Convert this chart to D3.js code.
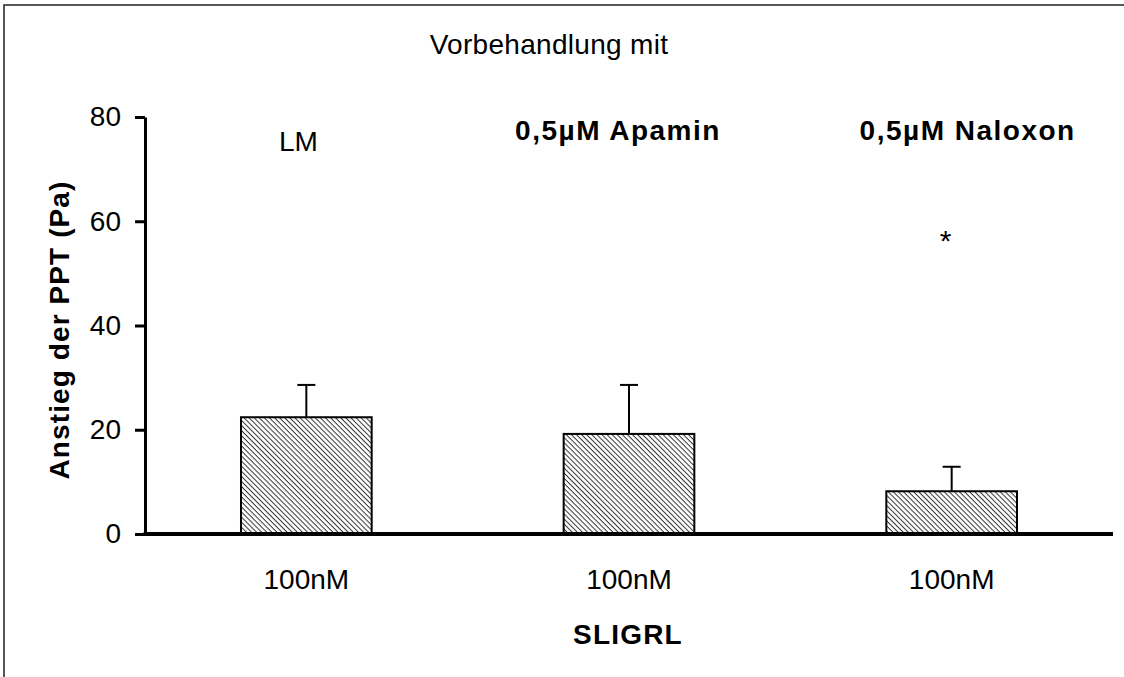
<!DOCTYPE html>
<html>
<head>
<meta charset="utf-8">
<script src="https://d3js.org/d3.v7.min.js"></script>
<style>
  body { margin: 0; background: #fff; }
  text { font-family: "Liberation Sans", Arial, sans-serif; fill: #000; }
</style>
</head>
<body>
<svg id="chart" width="1124" height="677"></svg>
<script>
// data
var groups = ["LM", "0,5µM Apamin", "0,5µM Naloxon"];
var doseLabels = ["100nM", "100nM", "100nM"];
var means = [22.4, 19.2, 8.2];
var errors = [6.2, 9.4, 4.7];
var stars = ["", "", "*"];
var starLevel = [0, 0, 57.4];
var yTicks = [0, 20, 40, 60, 80];

var chart = {};
chart.svg = d3.select("#chart");
chart.left = 145; chart.right = 1113;
chart.top = 117; chart.bottom = 534;

// page frame (only top and left edges show)
chart.svg.append("path")
    .attr("d", "M4,677 L4,5 L1124,5")
    .attr("fill", "none")
    .attr("stroke", "#222")
    .attr("stroke-width", 1.5);

// hatch fill
var defs = chart.svg.append("defs");
var pat = defs.append("pattern")
    .attr("id", "hatch")
    .attr("patternUnits", "userSpaceOnUse")
    .attr("width", 3.6).attr("height", 3.6)
    .attr("patternTransform", "rotate(45)");
pat.append("rect").attr("width", 3.6).attr("height", 3.6).attr("fill", "#fff");
pat.append("line")
    .attr("x1", 0).attr("y1", 0).attr("x2", 3.6).attr("y2", 0)
    .attr("stroke", "#333").attr("stroke-width", 2);

var x = d3.scaleBand()
    .domain(d3.range(groups.length))
    .range([chart.left, chart.right])
    .paddingInner(0.595)
    .paddingOuter(0.2975);

var y = d3.scaleLinear()
    .domain([0, 80])
    .range([chart.bottom, chart.top]);

var headShift = [-8, -11, 16];

// bars
chart.svg.selectAll("rect.bar")
    .data(means)
    .enter().append("rect")
    .attr("class", "bar")
    .attr("x", function(d, i){ return x(i); })
    .attr("y", function(d){ return y(d); })
    .attr("width", x.bandwidth())
    .attr("height", function(d){ return y(0) - y(d); })
    .attr("fill", "url(#hatch)")
    .attr("stroke", "#000")
    .attr("stroke-width", 2);

// error bars (upper only)
var eb = chart.svg.selectAll("g.err")
    .data(means)
    .enter().append("g").attr("class", "err");
eb.append("line")
    .attr("x1", function(d, i){ return x(i) + x.bandwidth()/2; })
    .attr("x2", function(d, i){ return x(i) + x.bandwidth()/2; })
    .attr("y1", function(d){ return y(d); })
    .attr("y2", function(d, i){ return y(d + errors[i]); })
    .attr("stroke", "#000").attr("stroke-width", 2);
eb.append("line")
    .attr("x1", function(d, i){ return x(i) + x.bandwidth()/2 - 9; })
    .attr("x2", function(d, i){ return x(i) + x.bandwidth()/2 + 9; })
    .attr("y1", function(d, i){ return y(d + errors[i]); })
    .attr("y2", function(d, i){ return y(d + errors[i]); })
    .attr("stroke", "#000").attr("stroke-width", 2);

// y axis
var yAxis = chart.svg.append("g")
    .attr("transform", "translate(" + chart.left + ",0)")
    .call(d3.axisLeft(y).tickValues(yTicks).tickSize(10).tickSizeOuter(0).tickPadding(14));
yAxis.select(".domain").attr("stroke", "#000").attr("stroke-width", 3);
yAxis.selectAll(".tick line").attr("stroke", "#000").attr("stroke-width", 3);
yAxis.selectAll(".tick text")
    .attr("font-size", 28)
    .attr("font-family", "Liberation Sans, Arial, sans-serif");

// x axis line
chart.svg.append("line")
    .attr("x1", chart.left - 1.5).attr("x2", chart.right)
    .attr("y1", y(0)).attr("y2", y(0))
    .attr("stroke", "#000").attr("stroke-width", 4);

// dose labels under bars
chart.svg.selectAll("text.dose")
    .data(doseLabels)
    .enter().append("text")
    .attr("class", "dose")
    .attr("x", function(d, i){ return x(i) + x.bandwidth()/2; })
    .attr("y", 589)
    .attr("text-anchor", "middle")
    .attr("font-size", 28)
    .text(function(d){ return d; });

// group headings
chart.svg.selectAll("text.grp")
    .data(groups)
    .enter().append("text")
    .attr("class", "grp")
    .attr("x", function(d, i){ return x(i) + x.bandwidth()/2 + headShift[i]; })
    .attr("y", function(d, i){ return i == 0 ? 151 : 140; })
    .attr("text-anchor", "middle")
    .attr("font-size", 28)
    .attr("font-weight", function(d, i){ return i == 0 ? "normal" : "bold"; })
    .style("letter-spacing", function(d, i){ return i == 0 ? "0px" : "1.5px"; })
    .text(function(d){ return d; });

// significance star
chart.svg.selectAll("text.star")
    .data(stars)
    .enter().append("text")
    .attr("class", "star")
    .attr("x", function(d, i){ return x(i) + x.bandwidth()/2 - 6; })
    .attr("y", function(d, i){ return y(starLevel[i]) + 16; })
    .attr("text-anchor", "middle")
    .attr("font-size", 30)
    .attr("font-family", "Liberation Serif, serif")
    .text(function(d){ return d; });

// titles
chart.svg.append("text")
    .attr("x", 549).attr("y", 54)
    .attr("text-anchor", "middle")
    .attr("font-size", 28)
    .style("letter-spacing", "0.3px")
    .text("Vorbehandlung mit");

chart.svg.append("text")
    .attr("x", 628).attr("y", 644)
    .attr("text-anchor", "middle")
    .attr("font-size", 28)
    .attr("font-weight", "bold")
    .style("letter-spacing", "1.2px")
    .text("SLIGRL");

chart.svg.append("text")
    .attr("transform", "translate(69,330) rotate(-90)")
    .attr("text-anchor", "middle")
    .attr("font-size", 28)
    .attr("font-weight", "bold")
    .style("letter-spacing", "1.1px")
    .text("Anstieg der PPT (Pa)");
</script>
</body>
</html>
